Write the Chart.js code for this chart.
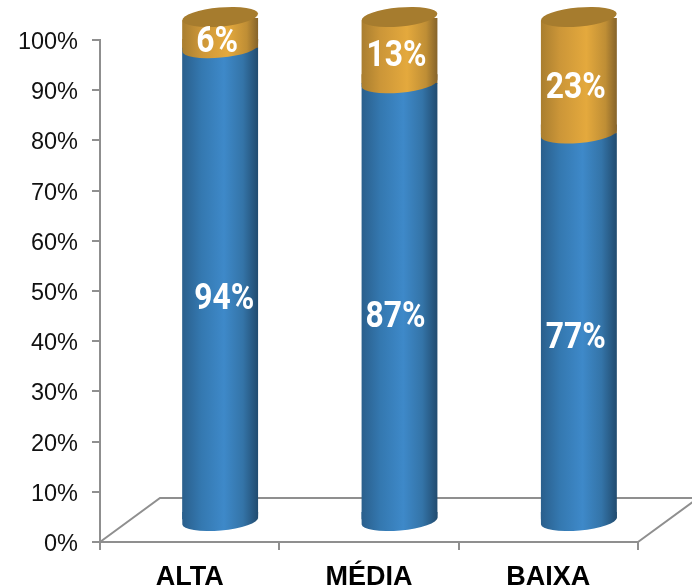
<!DOCTYPE html>
<html>
<head>
<meta charset="utf-8">
<style>
  html, body { margin: 0; padding: 0; background: #fff; overflow: hidden; }
  canvas { display: block; }
</style>
<script src="https://cdn.jsdelivr.net/npm/chart.js@4/dist/chart.umd.min.js"></script>
</head>
<body>
<canvas id="c" width="692" height="585"></canvas>
<script>
const categories = ['ALTA', 'MÉDIA', 'BAIXA'];
const blueValues = [94, 87, 77];
const orangeValues = [6, 13, 23];
const yTicks = [0, 10, 20, 30, 40, 50, 60, 70, 80, 90, 100];

const AXIS_COL = '#8f8f8f';
const DEPTH_X = 60, DEPTH_Y = 44;   // floor depth of the 3D box
const SHIFT_X = 30.5, SHIFT_Y = -22;  // cylinders stand mid-floor
const BAR_W = 76, CAP_RY = 9.5, TILT = -0.09;

// hand placed labels in the original, px from the middle of each segment
const blueNudge = [[4, 16], [-4, 17], [-3, 13]];
const orangeNudge = [[-3, 10], [-3, 6], [-3, 13]];

function sideGradient(ctx, cx, stops) {
  const g = ctx.createLinearGradient(cx - BAR_W / 2, 0, cx + BAR_W / 2, 0);
  stops.forEach(s => g.addColorStop(s[0], s[1]));
  return g;
}
const BLUE_STOPS = [[0, '#2a5f8c'], [0.25, '#3478b0'], [0.55, '#3e89c9'], [0.8, '#3474a8'], [1, '#214b6f']];
const ORANGE_STOPS = [[0, '#a97e2f'], [0.25, '#cc9638'], [0.6, '#e4a93d'], [0.85, '#bf8e35'], [1, '#85632a']];

function barFill(stops) {
  return c => {
    if (!c.chart.chartArea) return stops[2][1];
    return sideGradient(c.chart.ctx, c.chart.scales.x.getPixelForValue(c.dataIndex), stops);
  };
}

// lower half of a tilted ellipse, squared off upward so it merges with the side
function lowerCap(ctx, cx, cy, fill) {
  const rx = BAR_W / 2;
  ctx.beginPath();
  ctx.ellipse(cx, cy, rx, CAP_RY, TILT, 0, Math.PI);
  ctx.lineTo(cx - rx, cy - 9);
  ctx.lineTo(cx + rx, cy - 9);
  ctx.closePath();
  ctx.fillStyle = fill;
  ctx.fill();
}

const cylinders = {
  id: 'cylinders',
  beforeDatasetsDraw(chart) {
    const { ctx, scales: { x, y } } = chart;
    const y0 = y.getPixelForValue(0);
    const top = y.getPixelForValue(100);
    ctx.save();
    ctx.strokeStyle = AXIS_COL;
    ctx.lineWidth = 2;
    ctx.beginPath();
    ctx.moveTo(x.left, y0);
    ctx.lineTo(x.left + DEPTH_X, y0 - DEPTH_Y);
    ctx.lineTo(x.right + DEPTH_X, y0 - DEPTH_Y);
    ctx.lineTo(x.right, y0);
    ctx.stroke();
    ctx.restore();
    ctx.save();
    ctx.translate(SHIFT_X, SHIFT_Y);
    // trim the square bar corners to the tilt of the caps
    const rx = BAR_W / 2, lift = rx * Math.sin(-TILT);
    ctx.save();
    ctx.beginPath();
    categories.forEach((_, i) => {
      const cx = x.getPixelForValue(i);
      ctx.moveTo(cx - rx, top - 1 + lift);
      ctx.lineTo(cx + rx, top - 1 - lift);
      ctx.lineTo(cx + rx, y0 + 2 - lift);
      ctx.lineTo(cx - rx, y0 + 2 + lift);
      ctx.closePath();
    });
    ctx.clip();
  },
  afterDatasetsDraw(chart) {
    const { ctx } = chart;
    ctx.restore();
    const blue = chart.getDatasetMeta(0).data;
    const orange = chart.getDatasetMeta(1).data;
    blue.forEach((b, i) => {
      const o = orange[i];
      lowerCap(ctx, b.x, b.base + 2, sideGradient(ctx, b.x, BLUE_STOPS));
      lowerCap(ctx, b.x, b.y, sideGradient(ctx, b.x, ORANGE_STOPS));
      ctx.beginPath();
      ctx.ellipse(o.x, o.y - 1, BAR_W / 2, CAP_RY, TILT, 0, Math.PI * 2);
      ctx.fillStyle = '#a67c2e';
      ctx.fill();
    });
    blue.forEach((b, i) => {
      const o = orange[i];
      segLabel(ctx, blueValues[i] + '%', b.x + blueNudge[i][0], (b.y + b.base) / 2 + blueNudge[i][1]);
      segLabel(ctx, orangeValues[i] + '%', o.x + orangeNudge[i][0], (o.y + o.base) / 2 + orangeNudge[i][1]);
    });
    ctx.restore();
  }
};

// the source font is a condensed bold, Roboto squeezed sideways is the nearest installed
function segLabel(ctx, text, px, py) {
  ctx.save();
  ctx.translate(px, py);
  ctx.scale(0.86, 1);
  ctx.font = 'bold 37px Roboto, sans-serif';
  ctx.fillStyle = '#fff';
  ctx.textAlign = 'center';
  ctx.textBaseline = 'middle';
  ctx.fillText(text, 0, 0);
  ctx.restore();
}

new Chart(document.getElementById('c'), {
  type: 'bar',
  data: {
    labels: categories,
    datasets: [
      { label: 'blue', data: blueValues, backgroundColor: barFill(BLUE_STOPS), barThickness: BAR_W, borderWidth: 0 },
      { label: 'orange', data: orangeValues, backgroundColor: barFill(ORANGE_STOPS), barThickness: BAR_W, borderWidth: 0 },
    ],
  },
  options: {
    responsive: false,
    animation: false,
    layout: { padding: { top: 40, right: 54, left: 0, bottom: 0 } },
    plugins: { legend: { display: false }, tooltip: { enabled: false } },
    scales: {
      x: {
        stacked: true,
        afterFit: s => { s.height = 43; },
        border: { color: AXIS_COL, width: 2 },
        grid: { drawOnChartArea: false, color: AXIS_COL, lineWidth: 2, tickLength: 8 },
        ticks: {
          color: '#000', padding: 11, maxRotation: 0, autoSkip: false,
          font: { family: '"Liberation Sans", Arial, sans-serif', size: 27, weight: 'bold' },
        },
      },
      y: {
        stacked: true,
        min: 0,
        max: 100,
        afterFit: s => { s.width = 100; },
        afterBuildTicks: s => { s.ticks = yTicks.map(v => ({ value: v })); },
        border: { color: AXIS_COL, width: 2 },
        grid: { drawOnChartArea: false, color: AXIS_COL, lineWidth: 2, tickLength: 8 },
        ticks: {
          color: '#111', padding: 14, labelOffset: 2.5,
          font: { family: '"Liberation Sans", Arial, sans-serif', size: 23.5 },
          callback: v => v + '%',
        },
      },
    },
  },
  plugins: [cylinders],
});
</script>
</body>
</html>
